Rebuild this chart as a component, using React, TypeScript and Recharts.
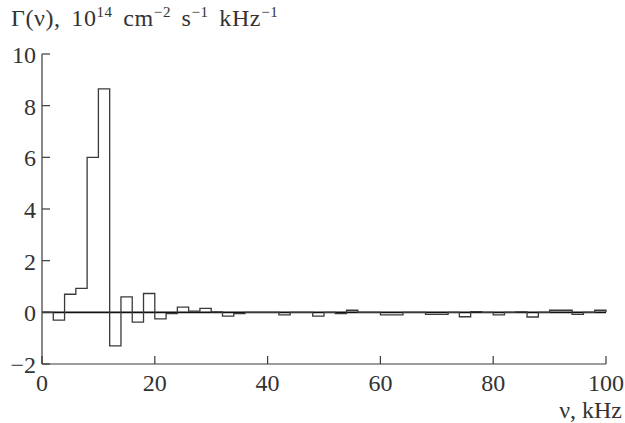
import { Line, LineChart, ReferenceLine, XAxis, YAxis } from "recharts";

// bin edges (kHz) and Γ(ν) per 2 kHz bin, 10^14 cm^-2 s^-1 kHz^-1
const BIN_EDGES = [
  0, 2, 4, 6, 8, 10, 12, 14, 16, 18, 20, 22, 24, 26, 28, 30, 32, 34, 36, 38,
  40, 42, 44, 46, 48, 50, 52, 54, 56, 58, 60, 62, 64, 66, 68, 70, 72, 74, 76,
  78, 80, 82, 84, 86, 88, 90, 92, 94, 96, 98, 100,
];
const GAMMA = [
  0, -0.3, 0.7, 0.93, 6.0, 8.65, -1.3, 0.6, -0.38, 0.73,
  -0.25, -0.05, 0.2, 0.05, 0.15, 0.02, -0.15, -0.05, 0, 0,
  0, -0.1, 0, 0, -0.15, 0, -0.05, 0.08, 0, 0,
  -0.1, -0.1, 0, 0, -0.08, -0.08, 0, -0.17, 0.03, 0,
  -0.1, 0, 0.02, -0.18, 0, 0.08, 0.08, -0.08, 0, 0.08,
];
const X_TICKS = [0, 20, 40, 60, 80, 100];
const Y_TICKS = [-2, 0, 2, 4, 6, 8, 10];

const FONT = "'Liberation Serif', 'DejaVu Serif', serif";
const INK = "#3a3a3a";

// step outline: one point per bin start, closed back to zero at the right edge
const steps = [
  ...GAMMA.map((g, i) => ({ nu: BIN_EDGES[i], g })),
  { nu: BIN_EDGES[BIN_EDGES.length - 1], g: GAMMA[GAMMA.length - 1] },
  { nu: BIN_EDGES[BIN_EDGES.length - 1], g: 0 },
];

function YTick({ x, y, payload }: any) {
  return (
    <g>
      <line x1={x} x2={x + 8} y1={y} y2={y} stroke={INK} strokeWidth={1.2} />
      <text x={x - 6} y={y + 9} textAnchor="end" fontSize={24} fontFamily={FONT} fill="#333">
        {payload.value < 0 ? `\u2212${-payload.value}` : payload.value}
      </text>
    </g>
  );
}

function XTick({ x, y, payload }: any) {
  return (
    <g>
      <line x1={x} x2={x} y1={y} y2={y - 8} stroke={INK} strokeWidth={1.2} />
      <text x={x} y={y + 27} textAnchor="middle" fontSize={24} fontFamily={FONT} fill="#333">
        {payload.value}
      </text>
    </g>
  );
}

const sup = { fontSize: 15, position: "relative" as const, top: -9 };

export default function App() {
  return (
    <div style={{ position: "fixed", left: 0, top: 0, width: 625, height: 423, background: "#fff" }}>
      <div
        style={{
          position: "absolute",
          left: 11,
          top: 6,
          fontFamily: FONT,
          fontSize: 24,
          lineHeight: 1,
          color: "#333",
          whiteSpace: "nowrap",
          letterSpacing: 0.6,
          wordSpacing: 4,
        }}
      >
        Γ(ν), 10<span style={sup}>14</span> cm<span style={sup}>−2</span> s<span style={sup}>−1</span> kHz
        <span style={sup}>−1</span>
      </div>
      <div
        style={{
          position: "absolute",
          right: 3,
          top: 398,
          fontFamily: FONT,
          fontSize: 24,
          lineHeight: 1,
          color: "#333",
          whiteSpace: "nowrap",
        }}
      >
        ν, kHz
      </div>
      <LineChart
        width={625}
        height={423}
        data={steps}
        margin={{ top: 54, right: 19, left: 0, bottom: 29 }}
      >
        <XAxis
          dataKey="nu"
          type="number"
          domain={[0, 100]}
          ticks={X_TICKS}
          height={30}
          tickSize={0}
          tickMargin={0}
          tickLine={false}
          axisLine={{ stroke: INK, strokeWidth: 1.2 }}
          tick={<XTick />}
          interval={0}
        />
        <YAxis
          type="number"
          domain={[-2, 10]}
          ticks={Y_TICKS}
          width={42}
          tickSize={0}
          tickMargin={0}
          tickLine={false}
          axisLine={{ stroke: INK, strokeWidth: 1.2 }}
          tick={<YTick />}
          interval={0}
        />
        <ReferenceLine y={0} stroke="#111" strokeWidth={1.6} />
        <Line
          dataKey="g"
          type="stepAfter"
          stroke={INK}
          strokeWidth={1.3}
          dot={false}
          isAnimationActive={false}
        />
      </LineChart>
    </div>
  );
}
